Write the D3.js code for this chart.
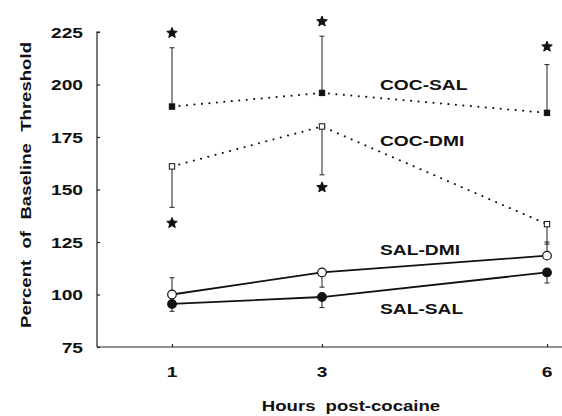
<!DOCTYPE html>
<html>
<head>
<meta charset="utf-8">
<script src="https://cdn.jsdelivr.net/npm/d3@7"></script>
<style>
  body { margin: 0; background: #fff; }
  text { font-family: "Liberation Sans", Arial, sans-serif; fill: #111; font-weight: bold; }
</style>
</head>
<body>
<div id="chart"></div>
<script>
// hours after cocaine
const hours = [1, 3, 6];
const yTicks = [75, 100, 125, 150, 175, 200, 225];

// mean values per group
const cocSal = [189.5, 196, 186.5];
const cocDmi = [161, 180, 133.5];
const salDmi = [100, 110.5, 118.5];
const salSal = [95.5, 98.8, 110.5];

// error bar ends (one side only, as drawn)
const cocSalErr = [217.5, 223, 209.5];
const cocDmiErr = [141.5, 157, 124];
const salDmiErr = [108, 103.5, 125];
const salSalErr = [92, 93.8, 105.5];

// significance stars: [hour, value]
const starsAt = [[1, 224.5], [3, 230], [6, 218], [1, 134], [3, 151]];

// group labels: [name, value at label centre]
const labels = [['COC-SAL', 200], ['COC-DMI', 173.5], ['SAL-DMI', 121.5], ['SAL-SAL', 93.6]];

const width = 562, height = 416;
const stretch = 1.24; // the scanned lettering is wide
const svg = d3.select('#chart').append('svg')
    .attr('width', width)
    .attr('height', height);

const x = d3.scaleLinear().domain([0, 6.2]).range([97, 562]);
const y = d3.scaleLinear().domain([75, 225]).range([347, 32]);

// axes
const yAxis = svg.append('g').attr('transform', `translate(${x(0)},0)`)
    .call(d3.axisRight(y).tickValues(yTicks).tickSize(3).tickFormat(''));
yAxis.select('.domain').attr('d', `M3,${y(225)}H0V${y(75)}`);
yAxis.selectAll('line, path').attr('stroke', '#222').attr('stroke-width', 1.2);

const xAxis = svg.append('g').attr('transform', `translate(0,${y(75)})`)
    .call(d3.axisTop(x).tickValues(hours).tickSize(3).tickFormat(''));
xAxis.select('.domain').attr('d', `M${x(0)},0H${width}`);
xAxis.selectAll('line, path').attr('stroke', '#222').attr('stroke-width', 1.2);

function wideText(sel, size) {
  return sel.attr('font-size', size).attr('dy', '0.36em');
}

wideText(svg.append('g').selectAll('text')
    .data(yTicks)
    .enter().append('text')
    .attr('transform', (d) => `translate(83,${y(d)}) scale(${stretch},1)`)
    .attr('text-anchor', 'end'), 15.5)
    .text((d) => d);

wideText(svg.append('g').selectAll('text')
    .data(hours)
    .enter().append('text')
    .attr('transform', (d) => `translate(${x(d)},371) scale(${stretch},1)`)
    .attr('text-anchor', 'middle'), 15.5)
    .text((d) => d);

wideText(svg.append('text')
    .attr('transform', `translate(351,406) scale(${stretch},1)`)
    .attr('text-anchor', 'middle')
    .attr('word-spacing', 4), 15)
    .text('Hours post-cocaine');

wideText(svg.append('text')
    .attr('transform', `translate(26,185) rotate(-90) scale(${stretch},1)`)
    .attr('text-anchor', 'middle')
    .attr('word-spacing', 5), 15)
    .text('Percent of Baseline Threshold');

const line = d3.line()
    .x((d, i) => x(hours[i]))
    .y((d) => y(d));

const series = [
  {name: 'COC-SAL', vals: cocSal, err: cocSalErr, dotted: true, shape: 'square', fill: '#111'},
  {name: 'COC-DMI', vals: cocDmi, err: cocDmiErr, dotted: true, shape: 'square', fill: '#fff'},
  {name: 'SAL-DMI', vals: salDmi, err: salDmiErr, dotted: false, shape: 'circle', fill: '#fff'},
  {name: 'SAL-SAL', vals: salSal, err: salSalErr, dotted: false, shape: 'circle', fill: '#111'},
];

series.forEach((s) => {
  const g = svg.append('g').attr('name', s.name);
  // error bars
  s.vals.forEach((v, i) => {
    g.append('line')
        .attr('x1', x(hours[i])).attr('x2', x(hours[i]))
        .attr('y1', y(v)).attr('y2', y(s.err[i]))
        .attr('stroke', '#333').attr('stroke-width', 1.1);
    g.append('line')
        .attr('x1', x(hours[i]) - 2.5).attr('x2', x(hours[i]) + 2.5)
        .attr('y1', y(s.err[i])).attr('y2', y(s.err[i]))
        .attr('stroke', '#333').attr('stroke-width', 1.1);
  });
  g.append('path')
      .attr('d', line(s.vals))
      .attr('fill', 'none')
      .attr('stroke', '#111')
      .attr('stroke-width', s.dotted ? 2 : 1.8)
      .attr('stroke-linecap', s.dotted ? 'round' : 'butt')
      .attr('stroke-dasharray', s.dotted ? '0.1,7.4' : null);
  s.vals.forEach((v, i) => {
    if (s.shape === 'square') {
      g.append('rect')
          .attr('x', x(hours[i]) - 2.7).attr('y', y(v) - 2.7)
          .attr('width', 5.4).attr('height', 5.4)
          .attr('fill', s.fill).attr('stroke', '#111').attr('stroke-width', 1);
    } else {
      g.append('circle')
          .attr('cx', x(hours[i])).attr('cy', y(v)).attr('r', 4.3)
          .attr('fill', s.fill).attr('stroke', '#111').attr('stroke-width', 1.2);
    }
  });
});

wideText(svg.append('g').selectAll('text')
    .data(labels)
    .enter().append('text')
    .attr('transform', (d) => `translate(380,${y(d[1])}) scale(${stretch},1)`), 15.5)
    .text((d) => d[0]);

// five-armed asterisk used for significance marks
const asterisk = {
  draw(context, size) {
    const r = Math.sqrt(size) * 0.85;
    const ri = r * 0.45;
    for (let i = 0; i < 10; i++) {
      const a = Math.PI * i / 5 - Math.PI / 2;
      const rr = i % 2 ? ri : r;
      const px = rr * Math.cos(a), py = rr * Math.sin(a);
      if (i === 0) context.moveTo(px, py); else context.lineTo(px, py);
    }
    context.closePath();
  },
};

svg.append('g').selectAll('path')
    .data(starsAt)
    .enter().append('path')
    .attr('transform', (d) => `translate(${x(d[0])},${y(d[1])})`)
    .attr('d', d3.symbol(asterisk, 42))
    .attr('fill', '#111')
    .attr('stroke', '#111')
    .attr('stroke-width', 1)
    .attr('stroke-linejoin', 'round');
</script>
</body>
</html>
